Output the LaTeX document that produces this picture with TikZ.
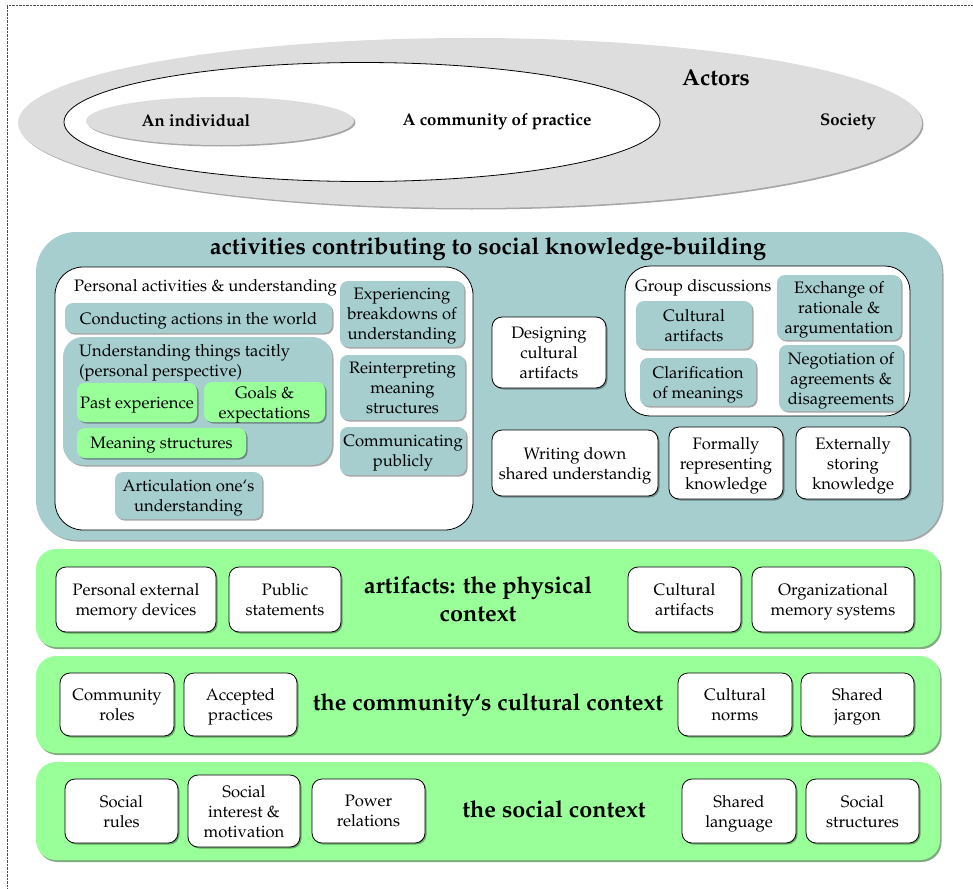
\documentclass[tikz,border=0pt]{standalone}
\usepackage[T1]{fontenc}
\usepackage{mathpazo}
\usepackage{tikz}
\usetikzlibrary{shapes.geometric,shadows}
\definecolor{tealpanel}{HTML}{A6CECE}
\definecolor{mintband}{HTML}{99FF99}
\definecolor{ashgray}{HTML}{DDDDDD}

\tikzset{
  softshadow/.style={drop shadow={shadow xshift=1.5pt,shadow yshift=-1.5pt,fill=black,opacity=0.35}},
  actorell/.style={ellipse,inner sep=0pt,fill=ashgray,softshadow},
  panel/.style={rectangle,inner sep=0pt,rounded corners=40pt,fill=tealpanel,softshadow},
  band/.style={rectangle,inner sep=0pt,rounded corners=20pt,fill=mintband,
    drop shadow={shadow xshift=1.5pt,shadow yshift=-2pt,fill=green!35!black,opacity=0.5}},
  holder/.style={rectangle,inner sep=0pt,rounded corners=28pt,fill=white,draw=black,thick},
  tealbox/.style={rectangle,inner sep=1pt,text depth=0pt,rounded corners=8pt,fill=tealpanel,align=center,softshadow},
  greenbox/.style={tealbox,fill=mintband},
  whitebox/.style={rectangle,inner sep=1pt,text depth=0pt,rounded corners=10pt,fill=white,draw=black,thick,align=center,softshadow},
  bandtitle/.style={font=\fontsize{23.4}{28}\selectfont\bfseries,align=center},
  actorlabel/.style={font=\fontsize{16.8}{20}\selectfont\bfseries}
}

\begin{document}
\begin{tikzpicture}[x=1pt,y=-1pt,font=\fontsize{16.6}{20}\selectfont]
\useasboundingbox (0,0) rectangle (973,888);
\draw[densely dotted,gray!60!black] (7,888) -- (7,5) -- (973,5);

\node[actorell,minimum width=904pt,minimum height=170pt] (society) at (470,123) {};
\node[ellipse,inner sep=0pt,fill=white,draw=black,thick,minimum width=596pt,minimum height=119pt] (community) at (362,122) {};
\node[actorell,minimum width=268pt,minimum height=48pt] (individual) at (220,121) {};
\node[font=\fontsize{23}{26}\selectfont\bfseries] (actors) at (716,78) {Actors};
\node[actorlabel] (lbindividual) at (196,121) {An individual};
\node[actorlabel] (lbcommunity) at (497,122) {A community of practice};
\node[actorlabel] (lbsociety) at (848,122) {Society};

\node[panel,minimum width=906pt,minimum height=308pt] (activities) at (489,386) {};
\node[bandtitle] (acttitle) at (488,249) {activities contributing to social knowledge-building};

\node[holder,minimum width=418pt,minimum height=263pt] (personal) at (264,398.5) {};
\node[anchor=north west,inner sep=0pt] (lbpersonal) at (74,279) {Personal activities \& understanding};
\node[tealbox,minimum width=267pt,minimum height=30pt] (conduct) at (198.5,318) {Conducting actions in the world};
\node[tealbox,rounded corners=20pt,minimum width=269pt,minimum height=128pt] (tacit) at (197.5,401) {};
\node[anchor=north west,inner sep=0pt,align=left] (lbtacit) at (79,344) {Understanding things tacitly\\(personal perspective)};
\node[greenbox,minimum width=120pt,minimum height=39pt] (past) at (137,402.5) {Past experience};
\node[greenbox,minimum width=121pt,minimum height=40pt] (goals) at (264.5,402) {Goals \&\\expectations};
\node[greenbox,minimum width=169pt,minimum height=30pt] (meaning) at (161.5,443) {Meaning structures};
\node[tealbox,minimum width=147pt,minimum height=47pt] (articul) at (188.5,495.5) {Articulation one`s\\understanding};
\node[tealbox,minimum width=124pt,minimum height=66pt] (breakdown) at (402,314) {Experiencing\\breakdowns of\\understanding};
\node[tealbox,minimum width=125pt,minimum height=65pt] (reinterp) at (402.5,387.5) {Reinterpreting\\meaning\\structures};
\node[tealbox,minimum width=126pt,minimum height=48pt] (communic) at (403,451) {Communicating\\publicly};

\node[whitebox,minimum width=114pt,minimum height=71pt] (designing) at (549,352.5) {Designing\\cultural\\artifacts};
\node[holder,rounded corners=25pt,minimum width=285pt,minimum height=150pt] (group) at (767.5,341) {};
\node[anchor=north west,inner sep=0pt] (lbgroup) at (635,279) {Group discussions};
\node[tealbox,minimum width=116pt,minimum height=48pt] (cultart) at (694,325) {Cultural\\artifacts};
\node[tealbox,minimum width=116pt,minimum height=48pt] (clarif) at (698,382) {Clarification\\of meanings};
\node[tealbox,minimum width=124pt,minimum height=65pt] (exchange) at (839,307.5) {Exchange of\\rationale \&\\argumentation};
\node[tealbox,minimum width=124pt,minimum height=66pt] (negot) at (841,378) {Negotiation of\\agreements \&\\disagreements};
\node[whitebox,minimum width=166pt,minimum height=66pt] (writing) at (575,463) {Writing down\\shared understandig};
\node[whitebox,minimum width=114pt,minimum height=72pt] (formally) at (726,463) {Formally\\representing\\knowledge};
\node[whitebox,minimum width=114pt,minimum height=72pt] (externally) at (853,463) {Externally\\storing\\knowledge};

\node[band,minimum width=904pt,minimum height=98pt] (physical) at (488,598) {};
\node[bandtitle] (phystitle) at (478,599) {artifacts: the physical\\context};
\node[whitebox,minimum width=160pt,minimum height=65pt] (persext) at (136,599.5) {Personal external\\memory devices};
\node[whitebox,minimum width=112pt,minimum height=65pt] (publicst) at (285,599.5) {Public\\statements};
\node[whitebox,minimum width=113pt,minimum height=65pt] (artifacts) at (684.5,599.5) {Cultural\\artifacts};
\node[whitebox,minimum width=162pt,minimum height=65pt] (orgmem) at (833,599.5) {Organizational\\memory systems};

\node[band,minimum width=904pt,minimum height=97pt] (cultural) at (488,704.5) {};
\node[bandtitle] (culttitle) at (488,705) {the community`s cultural context};
\node[whitebox,minimum width=114pt,minimum height=63pt] (roles) at (117,704.5) {Community\\roles};
\node[whitebox,minimum width=113pt,minimum height=63pt] (accepted) at (240.5,704.5) {Accepted\\practices};
\node[whitebox,minimum width=114pt,minimum height=63pt] (norms) at (735,704.5) {Cultural\\norms};
\node[whitebox,minimum width=113pt,minimum height=63pt] (jargon) at (857.5,704.5) {Shared\\jargon};

\node[band,minimum width=904pt,minimum height=98pt] (social) at (488,811) {};
\node[bandtitle] (soctitle) at (554,809) {the social context};
\node[whitebox,minimum width=113pt,minimum height=64pt] (rules) at (121.5,811) {Social\\rules};
\node[whitebox,minimum width=112pt,minimum height=72pt] (interest) at (244,811) {Social\\interest \&\\motivation};
\node[whitebox,minimum width=113pt,minimum height=64pt] (power) at (368.5,811) {Power\\relations};
\node[whitebox,minimum width=114pt,minimum height=64pt] (language) at (739,811) {Shared\\language};
\node[whitebox,minimum width=113pt,minimum height=64pt] (structures) at (862.5,811) {Social\\structures};
\end{tikzpicture}
\end{document}
